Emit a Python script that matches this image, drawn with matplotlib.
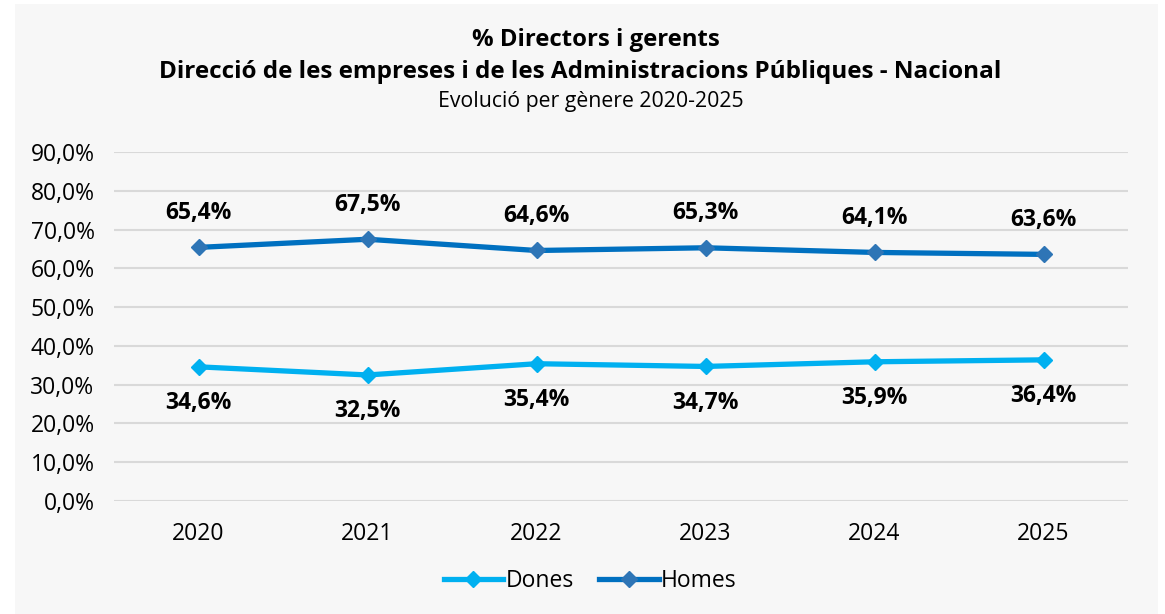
import matplotlib.pyplot as plt
from matplotlib.ticker import FuncFormatter

years = ["2020", "2021", "2022", "2023", "2024", "2025"]
dones = [34.6, 32.5, 35.4, 34.7, 35.9, 36.4]
homes = [65.4, 67.5, 64.6, 65.3, 64.1, 63.6]

title_1 = "% Directors i gerents"
title_2 = "Direcció de les empreses i de les Administracions Públiques - Nacional"
title_3 = "Evolució per gènere 2020-2025"

plt.rcParams['font.family'] = ['Open Sans', 'DejaVu Sans']

W, H = 1165, 614
fig = plt.figure(figsize=(W / 100, H / 100), dpi=100)
fig.patch.set_facecolor("white")
# grey panel behind the chart
panel = plt.Rectangle((15 / W, 0), (1158 - 15) / W, 610 / H,
                      transform=fig.transFigure, facecolor="#f7f7f7",
                      edgecolor="none", zorder=-5)
fig.patches.append(panel)

ax = fig.add_axes([114 / W, 1 - 501 / H, (1128 - 114) / W, (501 - 152) / H])
ax.set_facecolor("none")
ax.set_zorder(2)

x = list(range(len(years)))
ax.plot(x, dones, color="#00b0f0", lw=3.8, marker="D", ms=8.5,
        mfc="#00b0f0", mec="#00b0f0", label="Dones", zorder=3)
ax.plot(x, homes, color="#0070c0", lw=3.8, marker="D", ms=8.5,
        mfc="#2e75b6", mec="#2e75b6", label="Homes", zorder=3)

for i in x:
    ax.annotate(f"{homes[i]:.1f}%".replace(".", ","), (i, homes[i]),
                xytext=(0, 25), textcoords="offset points", ha="center",
                va="center", fontsize=16.5, fontweight="bold")
    ax.annotate(f"{dones[i]:.1f}%".replace(".", ","), (i, dones[i]),
                xytext=(0, -26), textcoords="offset points", ha="center",
                va="center", fontsize=16.5, fontweight="bold")

ax.set_xlim(-0.5, len(years) - 0.5)
ax.set_ylim(0, 90)
ax.set_yticks(range(0, 91, 10))
ax.yaxis.set_major_formatter(FuncFormatter(lambda v, p: f"{v:.1f}%".replace(".", ",")))
ax.set_xticks(x)
ax.set_xticklabels(years)
ax.tick_params(axis="both", length=0, labelsize=16.5)
ax.tick_params(axis="y", pad=14)
ax.tick_params(axis="x", pad=15)
ax.grid(axis="y", color="#d9d9d9", lw=1.5)
ax.set_axisbelow(True)
for s in ax.spines.values():
    s.set_visible(False)

fig.text(596 / W, 1 - 40 / H, title_1, ha="center", va="center", fontsize=17.2, fontweight="bold")
fig.text(580 / W, 1 - 72 / H, title_2, ha="center", va="center", fontsize=17.5, fontweight="bold")
fig.text(591 / W, 1 - 101 / H, title_3, ha="center", va="center", fontsize=15.3)

ax.legend(loc="center", bbox_to_anchor=(590 / W, 1 - 581 / H),
          bbox_transform=fig.transFigure, ncol=2, frameon=False,
          fontsize=16.5, handlelength=2.6, columnspacing=1.1, handletextpad=0.1)

fig.savefig("out.png", dpi=100, facecolor=fig.get_facecolor())
